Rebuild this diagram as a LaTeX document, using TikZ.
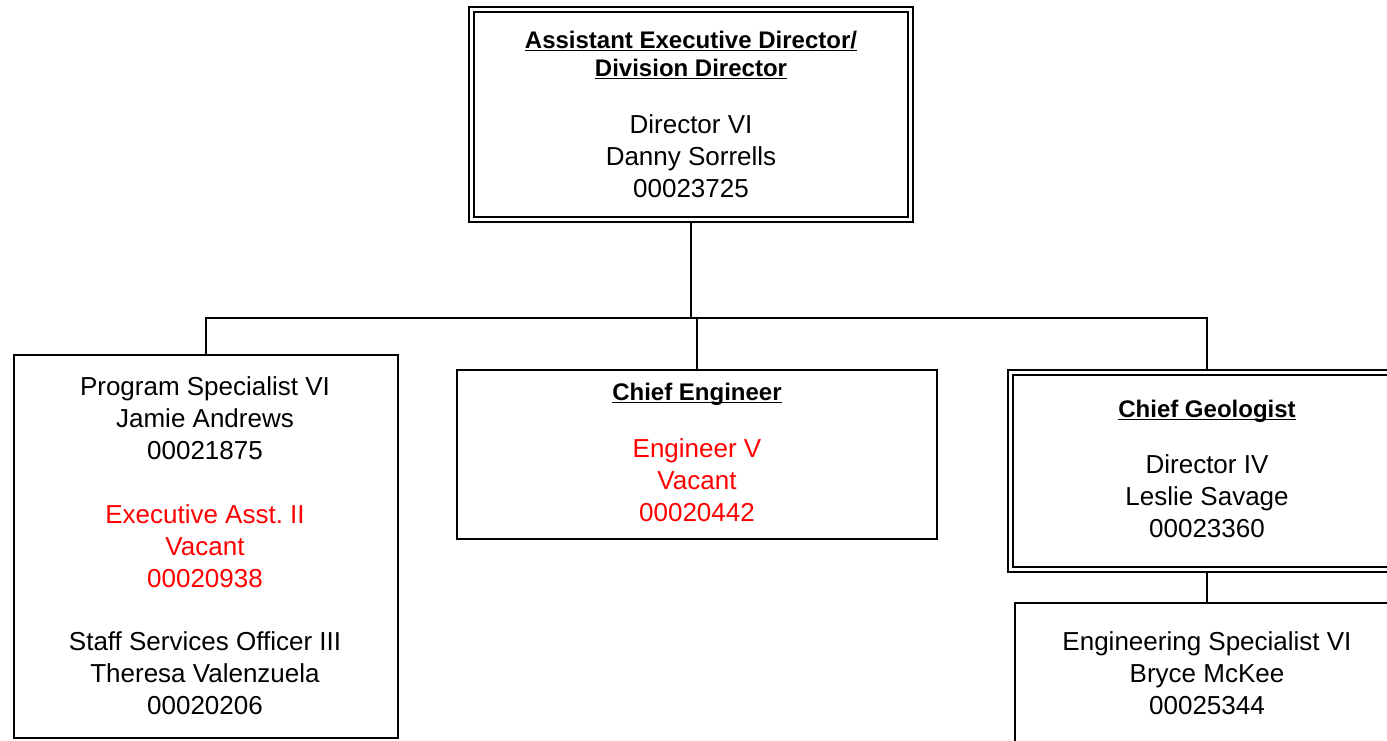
\documentclass[tikz,border=0pt]{standalone}
\usepackage{fontspec}
\setmainfont{Liberation Sans}
\frenchspacing
\newcommand\undl[1]{\setbox0\hbox{#1}\rlap{\rule[-3.2pt]{\wd0}{1.7pt}}\box0}
% stack of centred lines: name, x, first baseline, line step, style, lines
\newcommand\txtstack[6]{%
  \foreach \ln [count=\k from 0] in {#6} {%
    \node[#5, anchor=base] (#1-\k) at (#2, {#3+\k*#4}) {\ln};}}
\tikzset{
  box/.style={draw, rectangle, line width=1.3pt, inner sep=0pt, outer sep=0pt},
  dbox/.style={box, double, double distance=3.7pt, outer sep=2.5pt},
  body/.style={font=\fontsize{26}{32}\selectfont, inner sep=0pt},
  vac/.style={body, text=red},
  head/.style={font=\bfseries\fontsize{24}{28}\selectfont, inner sep=0pt},
  link/.style={line width=1.3pt},
}
\begin{document}
\begin{tikzpicture}[x=1pt, y=-1pt]
\useasboundingbox (0,0) rectangle (1387,740);
\clip (0,0) rectangle (1387,740);
\fill[white] (0,0) rectangle (1387,740);

% boxes
\node[dbox, minimum width=439pt, minimum height=210pt] (top) at (691,114.5) {};
\node[box, minimum width=384pt, minimum height=383pt] (staff) at (206,546.5) {};
\node[box, minimum width=480pt, minimum height=169pt] (eng) at (697,454.5) {};
\node[dbox, minimum width=393pt, minimum height=197pt] (geo) at (1207,471) {};
\node[box, minimum width=384pt, minimum height=140pt] (spec) at (1207,673) {};

% connectors
\coordinate (bus) at (691,318);
\draw[line width=2.4pt] (top.south) -- (bus);
\draw[link] (staff.north) |- (bus) -| (geo.north);
\draw[link] (eng.north) -- (eng.north |- bus);
\draw[link] (geo.south) -- (spec.north);

% texts
\txtstack{toph}{691}{48}{28}{head}{\undl{Assistant Executive Director/},\undl{Division Director}}
\txtstack{topb}{691}{133}{32}{body}{Director VI,Danny Sorrells,00023725}

\txtstack{stA}{205}{395}{32}{body}{Program Specialist VI,Jamie Andrews,00021875}
\txtstack{stB}{205}{523}{32}{vac}{Executive Asst. II,Vacant,00020938}
\txtstack{stC}{205}{650}{32}{body}{Staff Services Officer III,Theresa Valenzuela,00020206}

\txtstack{engh}{697}{400}{28}{head}{\undl{Chief Engineer}}
\txtstack{engb}{697}{457}{32}{vac}{Engineer V,Vacant,00020442}

\txtstack{geoh}{1207}{417}{28}{head}{\undl{Chief Geologist}}
\txtstack{geob}{1207}{473}{32}{body}{Director IV,Leslie Savage,00023360}

\txtstack{specb}{1207}{650}{32}{body}{Engineering Specialist VI,Bryce McKee,00025344}
\end{tikzpicture}
\end{document}
